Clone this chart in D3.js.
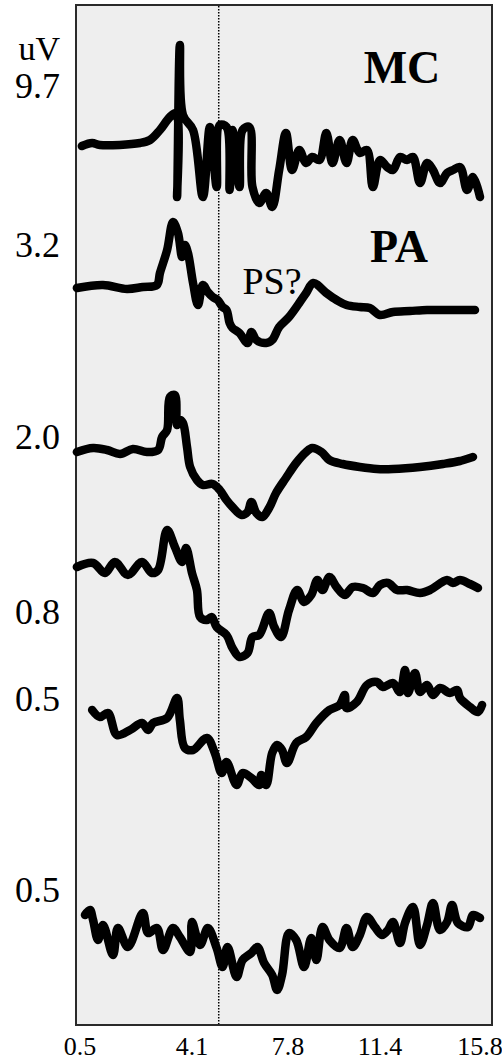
<!DOCTYPE html>
<html>
<head>
<meta charset="utf-8">
<script src="https://cdn.jsdelivr.net/npm/d3@7"></script>
<style>
  html, body { margin: 0; padding: 0; background: #fff; }
  svg text { font-family: "Liberation Serif", "Times New Roman", serif; fill: #000; }
</style>
</head>
<body>
<svg id="chart" width="502" height="1062"></svg>
<script>
// ---------- DATA (time in ms, amplitude in relative trace units) ----------
const xTicks = [0.5, 4.1, 7.8, 11.4, 15.8];
const ampLabels = ["9.7", "3.2", "2.0", "0.8", "0.5", "0.5"];
const unitLabel = "uV";
const markerTime = 5.13;

const traceMC = [[0.56,-0.1],[0.89,0.2],[1.14,0],[2.43,0.2],[2.75,0.5],[3.07,1.5],[3.39,2.8],[3.59,3.2],[3.62,-5.2],[3.71,10.0],[3.81,3.0],[4.14,1.5],[4.52,-5.2],[4.79,1.8],[5.05,-4.2],[5.17,2.0],[5.43,1.8],[5.55,-4.5],[5.66,1.5],[5.93,-4.2],[6.05,1.5],[6.31,1.8],[6.43,-4.2],[6.69,-5.8],[6.96,-4.8],[7.19,-6.2],[7.46,-2.5],[7.72,1.2],[7.96,-2.5],[8.24,-0.5],[8.51,-1.8],[8.75,-1.2],[9.03,-1.5],[9.30,1.2],[9.54,-1.8],[9.82,0.5],[10.09,-1.8],[10.33,0.5],[10.61,-0.8],[10.89,-0.5],[11.12,-4.2],[11.40,-1.5],[11.71,-2.2],[11.97,-2.5],[12.28,-1.2],[12.59,-1.5],[12.85,-1.2],[13.16,-3.8],[13.47,-1.8],[13.73,-2.5],[14.04,-3.8],[14.35,-2.8],[14.61,-2.5],[14.92,-2.2],[15.23,-4.5],[15.49,-3.2],[15.80,-5.2]];

const tracePA = [[0.40,0],[1.24,0.3],[2.01,-0.1],[2.52,0.1],[2.97,0.3],[3.07,1.5],[3.30,3.8],[3.49,6.6],[3.65,5.5],[3.78,3.1],[3.87,4.3],[3.97,3.5],[4.14,0.5],[4.33,-1.7],[4.52,0.3],[4.71,-0.4],[4.90,-0.9],[5.09,-1.2],[5.28,-1.9],[5.43,-2.2],[5.55,-3.5],[5.66,-4.0],[5.93,-4.5],[6.24,-5.5],[6.39,-4.4],[6.58,-5.2],[6.96,-5.5],[7.19,-5.2],[7.46,-3.9],[7.84,-2.9],[8.24,-1.5],[8.51,-0.5],[8.79,0.5],[9.30,-0.5],[9.70,-1.2],[10.09,-1.7],[10.61,-1.9],[11.00,-2.0],[11.40,-2.7],[11.97,-2.4],[12.72,-2.3],[13.47,-2.2],[14.17,-2.2],[15.58,-2.2]];

const trace3 = [[0.40,0],[0.92,0.4],[1.37,0.2],[1.79,-0.2],[2.20,0.3],[2.65,0],[3.01,0.2],[3.14,1.5],[3.30,2.2],[3.39,5.5],[3.55,5.7],[3.62,2.7],[3.71,3.2],[3.81,2.9],[3.94,0.5],[4.04,-1.5],[4.29,-2.8],[4.52,-3.3],[4.90,-3.2],[5.17,-3.8],[5.43,-4.8],[5.66,-5.5],[6.01,-6.3],[6.24,-6.0],[6.39,-5.0],[6.58,-6.1],[6.81,-6.5],[7.07,-5.6],[7.34,-4.1],[7.72,-2.6],[8.12,-1.1],[8.51,0],[8.75,0.4],[9.11,0],[9.42,-0.8],[9.94,-1.2],[10.61,-1.5],[11.28,-1.7],[11.97,-1.7],[13.16,-1.5],[14.17,-1.2],[14.92,-0.9],[15.49,-0.5]];

const trace4 = [[0.40,0],[0.92,0.4],[1.30,-0.6],[1.62,0.5],[2.04,-0.8],[2.49,0.5],[2.81,-0.6],[3.01,-0.3],[3.30,3.7],[3.55,2.0],[3.78,0.5],[3.91,1.9],[4.10,-0.6],[4.29,-2.3],[4.41,-5.0],[4.67,-5.3],[4.86,-5.0],[5.05,-6.0],[5.43,-6.8],[5.66,-8.1],[5.93,-9.0],[6.24,-8.6],[6.43,-7.0],[6.69,-6.8],[7.07,-4.6],[7.27,-6.0],[7.53,-7.0],[7.84,-4.3],[8.16,-2.3],[8.43,-3.5],[8.71,-2.8],[8.95,-1.3],[9.15,-2.3],[9.42,-1.0],[9.70,-2.0],[10.02,-2.8],[10.33,-2.0],[10.73,-2.1],[11.12,-2.6],[11.40,-1.8],[11.75,-1.6],[12.15,-2.3],[12.59,-2.3],[13.16,-2.6],[13.60,-2.3],[14.35,-1.3],[14.61,-1.6],[14.92,-1.3],[15.36,-1.7],[15.71,-2.1]];

const trace5 = [[0.89,0],[1.14,-0.7],[1.40,-0.3],[1.69,-2.5],[2.11,-2.0],[2.49,-1.3],[2.69,-2.0],[2.85,-1.3],[3.30,-0.8],[3.62,1.2],[3.71,-1.0],[3.87,-3.8],[4.14,-4.0],[4.67,-2.8],[4.98,-4.3],[5.24,-6.3],[5.43,-5.2],[5.82,-7.5],[6.05,-6.3],[6.39,-6.8],[6.69,-7.5],[6.77,-6.5],[6.96,-7.5],[7.19,-4.3],[7.38,-3.5],[7.57,-4.0],[7.76,-5.3],[8.12,-3.3],[8.51,-2.7],[8.91,-1.3],[9.42,0],[9.82,0.5],[10.02,1.5],[10.09,0.2],[10.49,0.8],[10.89,2.5],[11.28,2.8],[11.53,2.3],[11.97,2.7],[12.28,1.8],[12.50,4.0],[12.63,1.7],[12.94,3.7],[13.16,1.8],[13.47,2.5],[13.73,1.5],[14.04,2.2],[14.48,1.7],[14.79,2.0],[14.92,1.2],[15.36,0.3],[15.71,-0.2],[15.89,0.5]];

const trace6 = [[0.66,0.5],[0.82,1.0],[0.92,0],[1.08,-2.0],[1.24,-0.5],[1.56,-3.5],[1.72,-0.8],[2.04,-2.7],[2.52,0.7],[2.69,-1.3],[2.97,-0.8],[3.17,-3.0],[3.49,-0.8],[3.71,-1.7],[4.04,-3.2],[4.10,-0.2],[4.41,-2.5],[4.71,-0.8],[5.05,-2.8],[5.28,-4.7],[5.47,-2.7],[5.82,-5.7],[6.05,-4.0],[6.39,-3.3],[6.62,-2.7],[6.88,-4.3],[7.19,-5.5],[7.38,-7.0],[7.57,-5.5],[7.84,-1.3],[8.12,-2.0],[8.43,-4.7],[8.71,-1.8],[8.91,-4.0],[9.15,-0.7],[9.42,-2.0],[9.82,-2.8],[10.09,-0.8],[10.33,-2.7],[10.61,-1.5],[10.89,0.3],[11.20,-0.7],[11.49,-1.5],[11.75,-1.0],[11.97,-0.2],[12.28,-2.3],[12.50,-0.3],[12.85,1.3],[13.16,-2.5],[13.47,-0.5],[13.73,1.7],[14.04,-1.0],[14.35,-0.2],[14.57,1.5],[14.83,-0.3],[15.27,-0.7],[15.49,0.5],[15.80,0.2]];

const traces = [traceMC, tracePA, trace3, trace4, trace5, trace6];

// ---------- LAYOUT ----------
const panel = { left: 76, right: 492, top: 5, bottom: 1025 };
const traceBaselines = [145, 288, 452, 567, 710, 920];
const ampLabelY = [98, 257, 449, 624, 711, 902];
const unitsPerHalf = 10, pxPerHalf = 100;

const svg = d3.select("#chart");

// time axis (polylinear to match printed tick positions)
const x = d3.scaleLinear().domain(xTicks).range([80, 192, 288, 380, 480]);

svg.append("rect")
  .attr("x", panel.left).attr("y", panel.top)
  .attr("width", panel.right - panel.left).attr("height", panel.bottom - panel.top)
  .attr("fill", "#eeeeee").attr("stroke", "#2a2a2a").attr("stroke-width", 2);

svg.append("line")
  .attr("x1", x(markerTime)).attr("x2", x(markerTime))
  .attr("y1", panel.top + 1).attr("y2", panel.bottom - 1)
  .attr("stroke", "#000").attr("stroke-width", 1.5).attr("stroke-dasharray", "1.5,1.5");

traces.forEach((tr, i) => {
  const base = traceBaselines[i];
  const y = d3.scaleLinear().domain([-unitsPerHalf, unitsPerHalf]).range([base + pxPerHalf, base - pxPerHalf]);
  const line = d3.line().x(d => x(d[0])).y(d => y(d[1])).curve(d3.curveCatmullRom.alpha(0.5));
  svg.append("path")
    .attr("d", line(tr))
    .attr("fill", "none").attr("stroke", "#000")
    .attr("stroke-width", 8.5).attr("stroke-linejoin", "round").attr("stroke-linecap", "round");
});

// amplitude labels
svg.append("text").attr("x", 60).attr("y", 60).attr("text-anchor", "end")
  .attr("font-size", 34).text(unitLabel);
svg.selectAll("text.amp").data(ampLabels).join("text")
  .attr("class", "amp")
  .attr("x", 60).attr("y", (d, i) => ampLabelY[i]).attr("text-anchor", "end")
  .attr("font-size", 36).text(d => d);

// x tick labels
svg.selectAll("text.tick").data(xTicks).join("text")
  .attr("class", "tick")
  .attr("x", d => x(d)).attr("y", 1055).attr("text-anchor", "middle")
  .attr("font-size", 26).text(d => d3.format(".1f")(d));

// annotations
svg.append("text").attr("x", 402).attr("y", 83).attr("text-anchor", "middle")
  .attr("font-size", 46).attr("font-weight", "bold").text("MC");
svg.append("text").attr("x", 399).attr("y", 262).attr("text-anchor", "middle")
  .attr("font-size", 46).attr("font-weight", "bold").text("PA");
svg.append("text").attr("x", 272).attr("y", 294).attr("text-anchor", "middle")
  .attr("font-size", 38).text("PS?");
</script>
</body>
</html>
